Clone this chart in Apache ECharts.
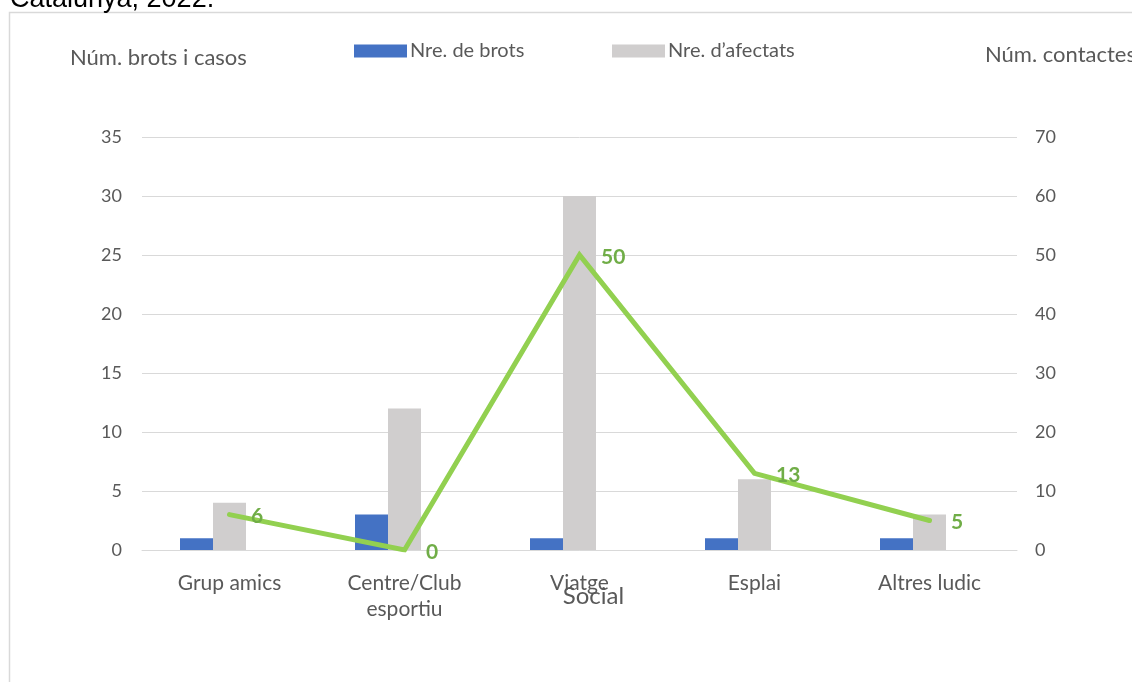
<!DOCTYPE html>
<html>
<head>
<meta charset="utf-8">
<script src="https://cdn.jsdelivr.net/npm/echarts@6/dist/echarts.min.js"></script>
<style>
html,body{margin:0;padding:0;background:#fff;}
#c{width:1132px;height:682px;}
</style>
</head>
<body>
<div id="c"></div>
<script>
const categories = ['Grup amics', 'Centre/Club\nesportiu', 'Viatge', 'Esplai', 'Altres ludic'];
const brots = [1, 3, 1, 1, 1];
const afectats = [4, 12, 30, 6, 3];
const contactes = [6, 0, 50, 13, 5];
const leftTicks = { min: 0, max: 35, interval: 5 };
const rightTicks = { min: 0, max: 70, interval: 10 };

const FONT = 'Lato';
const TXT = '#595959';

const chart = echarts.init(document.getElementById('c'));
chart.setOption({
  animation: false,
  textStyle: { fontFamily: FONT },
  graphic: [
    { type: 'rect', shape: { x: 9.5, y: 12.5, width: 1200, height: 800 }, style: { fill: 'none', stroke: '#D9D9D9', lineWidth: 1.5 }, silent: true, z: -1 },
    { type: 'text', left: 10, top: -14, style: { text: 'Catalunya, 2022.', font: '27px "Liberation Sans"', fill: '#000' } },
    { type: 'text', left: 70, top: 47, style: { text: 'Núm. brots i casos', font: '22px ' + FONT, fill: TXT } },
    { type: 'text', left: 985, top: 44, style: { text: 'Núm. contactes', font: '22px ' + FONT, fill: TXT } }
  ],
  legend: [
    { left: 354, top: 41, padding: 0, itemWidth: 53, itemHeight: 13, itemGap: 0, icon: 'rect',
      data: ['Nre. de brots'], textStyle: { color: TXT, fontSize: 20, fontFamily: FONT, padding: [0,0,0,-2] } },
    { left: 612, top: 41, padding: 0, itemWidth: 53, itemHeight: 13, itemGap: 0, icon: 'rect',
      data: ['Nre. d’afectats'], textStyle: { color: TXT, fontSize: 20, fontFamily: FONT, padding: [0,0,0,-2] } }
  ],
  grid: { left: 142, right: 115, top: 137, bottom: 132, containLabel: false },
  xAxis: {
    type: 'category',
    data: categories,
    name: 'Social',
    nameLocation: 'middle',
    nameGap: 34,
    nameMoveOverlap: false,
    nameTextStyle: { color: TXT, fontSize: 24, fontFamily: FONT, padding: [0, 0, 0, 28] },
    axisLine: { show: true, lineStyle: { color: '#D9D9D9', width: 1 } },
    axisTick: { show: false },
    axisLabel: { color: TXT, fontSize: 21, fontFamily: FONT, margin: 20, lineHeight: 26, interval: 0 }
  },
  yAxis: [
    { type: 'value', min: leftTicks.min, max: leftTicks.max, interval: leftTicks.interval,
      axisLine: { show: false }, axisTick: { show: false },
      axisLabel: { color: TXT, fontSize: 18, fontFamily: FONT, margin: 20 },
      splitLine: { lineStyle: { color: '#D9D9D9', width: 1 } } },
    { type: 'value', min: rightTicks.min, max: rightTicks.max, interval: rightTicks.interval,
      axisLine: { show: false }, axisTick: { show: false },
      axisLabel: { color: TXT, fontSize: 18, fontFamily: FONT, margin: 18 },
      splitLine: { show: false } }
  ],
  series: [
    { name: 'Nre. de brots', type: 'bar', data: brots, barWidth: 33, barGap: '0%', itemStyle: { color: '#4472C4' } },
    { name: 'Nre. d’afectats', type: 'bar', data: afectats, barWidth: 33, barGap: '0%', itemStyle: { color: '#D0CECE' } },
    { name: 'hidden', type: 'bar', data: categories.map(() => '-'), barWidth: 33, barGap: '0%', itemStyle: { color: 'transparent' } },
    { name: 'Núm. contactes', type: 'line', yAxisIndex: 1, data: contactes,
      symbol: 'circle', symbolSize: 1, showSymbol: true, z: 5,
      itemStyle: { color: 'rgba(0,0,0,0)' },
      lineStyle: { color: '#92D050', width: 5, cap: 'round', join: 'miter' },
      label: { show: true, position: 'right', distance: 21, offset: [0, 2], color: '#70AD47', fontWeight: 'bold', fontSize: 21, fontFamily: FONT } }
  ]
});
</script>
</body>
</html>
